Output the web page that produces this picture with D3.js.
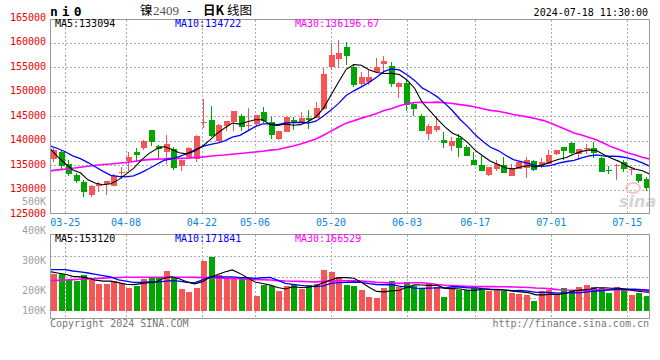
<!DOCTYPE html>
<html><head><meta charset="utf-8">
<script src="https://cdn.jsdelivr.net/npm/d3@7/dist/d3.min.js"></script>
<style>body{margin:0;background:#fff}svg{display:block}</style>
</head><body><svg id="c" width="660" height="360"></svg>
<script>
const dates = ["03-21","03-22","03-25","03-26","03-27","03-28","03-29","04-01","04-02","04-03",
"04-08","04-09","04-10","04-11","04-12","04-15","04-16","04-17","04-18","04-19",
"04-22","04-23","04-24","04-25","04-26","04-29","04-30","05-06","05-07","05-08",
"05-09","05-10","05-13","05-14","05-15","05-16","05-17","05-20","05-21","05-22",
"05-23","05-24","05-27","05-28","05-29","05-30","05-31","06-03","06-04","06-05",
"06-06","06-07","06-11","06-12","06-13","06-14","06-17","06-18","06-19","06-20",
"06-21","06-24","06-25","06-26","06-27","06-28","07-01","07-02","07-03","07-04",
"07-05","07-08","07-09","07-10","07-11","07-12","07-15","07-16","07-17","07-18"];
const opens = [136200,137700,135200,133000,131600,128900,130800,131100,130800,133400,
135800,137600,138500,142200,138900,137700,138200,134800,136700,136300,
143500,144200,139900,142900,143800,145000,143000,143400,145900,143800,
140300,141800,144250,143850,144650,144600,146400,155100,156550,159100,
155100,151500,152000,153900,155600,155200,151000,151700,147400,145000,
141350,142150,140100,138900,140450,138600,136000,135000,132950,134200,
135100,132750,134250,134400,135800,134950,135300,137200,138600,139400,
137200,138400,138400,136500,134000,135000,135650,133950,133150,132100];
const highs = [138400,138000,136100,133400,131900,131000,131500,131800,133200,134500,
137600,138400,140200,142200,139000,141100,138700,136100,138600,141200,
148500,147100,143400,144000,146000,145400,146600,145300,146800,144800,
141900,144850,144800,145870,146140,147800,154860,160000,160470,160100,
155700,154000,154400,156900,157300,156100,151900,152400,147950,145500,
143400,144900,141750,140800,141300,139100,137700,136850,134600,136000,
136550,135300,135900,136550,136000,136500,138000,138150,138650,139600,
138350,139370,139600,136600,134800,135150,136000,134300,133150,132600];
const lows = [135600,134200,132700,131300,128500,128500,129500,128900,130700,132200,
133700,135600,138100,138900,136400,135200,133900,133700,136600,135600,
142500,140700,139900,141900,141900,141900,142100,143000,143500,140400,
140200,141700,142100,143800,142360,144500,146300,154400,154700,155400,
150900,150900,151300,153900,153700,150900,148600,146100,145000,141900,
140100,141800,138550,137850,136700,136800,134900,133750,132750,133800,
133400,132700,134200,132300,133750,134300,135300,137000,136000,137150,
136000,137340,136500,133600,133150,131900,133500,132950,131400,129750];
const closes = [138000,134700,133200,131700,129500,130800,131100,131700,132700,133500,
136700,137000,139800,139600,138200,139250,134300,136100,138500,140900,
143800,140900,143150,144000,146000,142700,143200,145200,144000,141100,
141900,144800,143700,144650,144250,146600,153600,157400,157770,157300,
151350,152900,152900,154900,156300,151500,151800,147300,146450,141950,
143000,143000,139550,139900,138550,136900,135000,133800,134500,135300,
133400,134100,135600,136100,133950,135650,137000,138150,137900,137550,
138300,138500,137350,133600,133900,135100,134150,134100,131800,130400];
const volumes = [303000,305000,259000,245000,295000,253000,220000,220000,245000,231000,
187000,206000,262000,280000,272000,328000,272000,179000,154000,187000,
410000,446000,295000,272000,272000,267000,262000,121000,212000,206000,
165000,204000,212000,185000,212000,226000,336000,322000,280000,212000,
204000,171000,116000,107000,190000,248000,198000,237000,204000,185000,
231000,198000,116000,193000,171000,177000,193000,171000,165000,171000,
165000,149000,138000,135000,80000,165000,177000,130000,187000,171000,
196000,212000,196000,187000,149000,196000,171000,130000,149000,124000];
// moving-average values for the first days (history before the window)
const ma5Warm = [138400,136700,135300,134000];
const ma10Warm = [138900,138370,137700,136850,136300,135500,134600,133700,132900];
const ma30Warm = [133800,134000,134150,134350,134550,134750,134950,135100,135200,135350,
135500,135700,135950,136100,136200,136250,136350,136350,136400,136500,
136600,136800,136950,137050,137200,137350,137500,137650,137800];
const vma5Warm = [325000,313500,303000,286000];
const vma10Warm = [341500,341500,341500,330000,322000,313500,303000,292000,280500];
const vma30Warm = [250000,253000,256000,259000,262000,265000,268000,271000,274000,276000,
278000,278000,278000,278000,278000,278000,278000,278000,278000,277000,
276000,275000,273000,271000,269000,266000,263000,261000,258000];
const priceTicks = [125000,130000,135000,140000,145000,150000,155000,160000,165000];
const volTicks = [500000,400000,300000,200000,100000];
const dateTicks = ["03-25","04-08","04-22","05-06","05-20","06-03","06-17","07-01","07-15"];
const priceHeader = ["MA5:133094","MA10:134722","MA30:136196.67"];
const volHeader = ["MA5:153120","MA10:171841","MA30:166529"];
const titleParts = ["镍", "2409", "-", "日K", "线图"];
const maColors = ["#000000","#0000ff","#ff00ff"];

const svg = d3.select("#c");
const L = 50, R = 650;
const MONO = "'DejaVu Sans Mono', monospace";
const UP = "#f65555", DOWN = "#00a600", GRID = "#aaaaaa", BORDER = "#999999";

const idx = d3.range(dates.length);
const xb = d3.scaleBand().domain(idx).range([L, R]);
const xp = d3.scalePoint().domain(idx).range([L, R]);
const y = d3.scaleLinear().domain([125000, 165000]).range([214, 18]);
const yv = d3.scaleLinear().domain([0, 825000]).range([311, 211]);
const yvLab = d3.scaleLinear().domain([200000, 500000]).range([290, 201]);

function ma(vals, n, warm) {
  return vals.map((v, i) => i < n - 1 ? warm[i] : d3.mean(vals.slice(i - n + 1, i + 1)));
}
const crisp = v => Math.round(v) + 0.5;
const dIdx = d => dates.indexOf(d);

// ---------- grids ----------
const g = svg.append("g").attr("shape-rendering", "crispEdges");
priceTicks.slice(1, -1).forEach(t => {
  g.append("line").attr("x1", L).attr("x2", R).attr("y1", crisp(y(t))).attr("y2", crisp(y(t)))
    .attr("stroke", GRID).attr("stroke-dasharray", "2,2");
});
dateTicks.forEach(d => {
  const x = crisp(xp(dIdx(d)));
  g.append("line").attr("x1", x).attr("x2", x).attr("y1", 19.5).attr("y2", 213.5)
    .attr("stroke", GRID).attr("stroke-dasharray", "2,2");
  g.append("line").attr("x1", x).attr("x2", x).attr("y1", 234.5).attr("y2", 318.5)
    .attr("stroke", GRID).attr("stroke-dasharray", "2,2");
});
const vTop = 234.5, vBot = 318.5;
[1, 2, 3].forEach(k => {
  const yy = crisp(vTop + (vBot - vTop) * k / 4);
  g.append("line").attr("x1", L).attr("x2", R).attr("y1", yy).attr("y2", yy)
    .attr("stroke", GRID).attr("stroke-dasharray", "2,2");
});

// ---------- watermark ----------
const wm = svg.append("g");
wm.append("ellipse").attr("cx", 633).attr("cy", 188).attr("rx", 7).attr("ry", 5)
  .attr("fill", "none").attr("stroke", "#f0c4c4").attr("stroke-width", 2);
wm.append("text").attr("x", 619).attr("y", 207).text("sina")
  .attr("font-family", "'DejaVu Sans', sans-serif").attr("font-style", "italic")
  .attr("font-weight", "bold").attr("font-size", 16).attr("fill", "#d4d4d4");

// ---------- candles ----------
const cg = svg.append("g").attr("shape-rendering", "crispEdges");
idx.forEach(i => {
  const cx = xb(i) + xb.bandwidth() / 2;
  const up = closes[i] >= opens[i];
  const col = up ? UP : DOWN;
  const wx = Math.floor(cx) + 0.5;
  cg.append("line").attr("x1", wx).attr("x2", wx).attr("y1", y(highs[i])).attr("y2", y(lows[i]))
    .attr("stroke", col);
  const top = y(Math.max(opens[i], closes[i])), bot = y(Math.min(opens[i], closes[i]));
  cg.append("rect").attr("x", Math.floor(cx) - 2).attr("width", 6)
    .attr("y", top).attr("height", Math.max(1, bot - top)).attr("fill", col);
  cg.append("rect").attr("x", Math.floor(cx) - 2).attr("width", 6)
    .attr("y", yv(volumes[i])).attr("height", yv(0) - yv(volumes[i])).attr("fill", col);
});

// ---------- MA lines ----------
const line = d3.line().x((d, i) => xp(i));
const pMAs = [ma(closes, 5, ma5Warm), ma(closes, 10, ma10Warm), ma(closes, 30, ma30Warm)];
const vMAs = [ma(volumes, 5, vma5Warm), ma(volumes, 10, vma10Warm), ma(volumes, 30, vma30Warm)];
const widths = [1.1, 1.3, 1.6];
[2, 1, 0].forEach(k => {
  svg.append("path").attr("d", line.y(d => y(d))(pMAs[k])).attr("fill", "none")
    .attr("stroke", maColors[k]).attr("stroke-width", widths[k]);
  svg.append("path").attr("d", line.y(d => yv(d))(vMAs[k])).attr("fill", "none")
    .attr("stroke", maColors[k]).attr("stroke-width", widths[k]);
});

// ---------- borders ----------
const b = svg.append("g").attr("shape-rendering", "crispEdges").attr("fill", "none").attr("stroke", BORDER);
b.append("rect").attr("x", 50.5).attr("y", 19.5).attr("width", 599).attr("height", 194);
b.append("rect").attr("x", 50.5).attr("y", 234.5).attr("width", 599).attr("height", 84);

// ---------- texts ----------
const T = (x, yy, s, col, anchor, size) => svg.append("text").attr("x", x).attr("y", yy).text(s)
  .attr("fill", col).attr("font-family", MONO).attr("font-size", size || 10)
  .attr("text-anchor", anchor || "start");

priceTicks.forEach(t => T(46, y(t) + 2.5, String(t), "#ee0000", "end"));
volTicks.forEach(t => T(46, Math.min(yvLab(t), 310) + 3.5, (t / 1000) + "K", "#a0a0a0", "end"));
dateTicks.forEach(d => T(xp(dIdx(d)), 225.5, d, "#0a84dc", "middle"));

const hx = [55, 175, 295];
priceHeader.forEach((s, k) => T(hx[k], 27, s, maColors[k]));
volHeader.forEach((s, k) => T(hx[k], 242, s, maColors[k]));

svg.append("text").attr("x", 50).attr("y", 16).text("ni0").attr("font-family", MONO)
  .attr("font-weight", "bold").attr("font-size", 13).attr("letter-spacing", 4).attr("fill", "#000");
const tt = svg.append("text").attr("y", 15)
  .attr("font-family", "'Noto Sans CJK SC', sans-serif").attr("font-size", 12.5).attr("fill", "#000");
const tx = [140, 153, 187, 203, 227];
titleParts.forEach((s, k) => {
  const sp = tt.append("tspan").attr("x", tx[k]).text(s);
  if (k === 1) sp.attr("fill", "#555").attr("font-family", "'Liberation Serif', serif").attr("font-size", 13);
  if (k === 3) sp.attr("font-weight", "bold");
});
T(648, 15.5, "2024-07-18 11:30:00", "#000", "end");
T(50, 327, "Copyright 2024 SINA.COM", "#777", "start");
T(649, 327, "http://finance.sina.com.cn", "#777", "end");
</script></body></html>
